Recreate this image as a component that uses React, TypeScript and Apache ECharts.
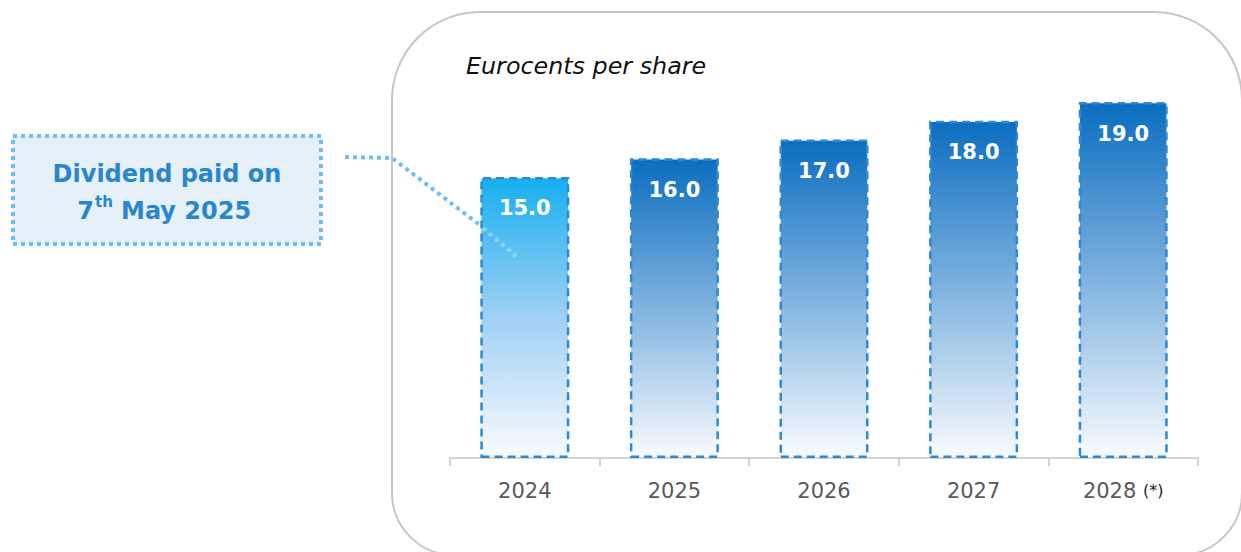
import React, { useEffect, useRef } from "react";
import * as echarts from "echarts";

const years = ["2024", "2025", "2026", "2027", "2028"];
const dividends = [15.0, 16.0, 17.0, 18.0, 19.0];
const topColors = ["#17aff0", "#0b6dc0", "#0b6dc0", "#0b6dc0", "#0b6dc0"];
const midColors = ["#a0d0f4", "#80b3df", "#80b3df", "#80b3df", "#80b3df"];
const estimatedYears = ["2028"];
const unitTitle = "Eurocents per share";
const noteLines = ["Dividend paid on", "7", "th", "May 2025"];

export default function App() {
  const ref = useRef<HTMLDivElement>(null);
  useEffect(() => {
    document.body.style.margin = "0";
    const chart = echarts.init(ref.current!, null, { renderer: "svg" });
    const font = "'DejaVu Sans', sans-serif";
    const data = dividends.map((v, i) => ({
      value: v,
      itemStyle: {
        color: new echarts.graphic.LinearGradient(0, 0, 0, 1, [
          { offset: 0, color: topColors[i] },
          { offset: 0.5, color: midColors[i] },
          { offset: 1, color: "#f8fbfe" },
        ]),
        borderColor: "#2a8ad6",
        borderWidth: 2.5,
        borderType: [8, 5],
      },
    }));
    chart.setOption({
      animation: false,
      grid: { left: 450, right: 43, top: 102, bottom: 94 },
      xAxis: {
        type: "category",
        data: years,
        axisLine: { lineStyle: { color: "#d3d3d3", width: 2 } },
        axisTick: { show: true, interval: 0, length: 8, lineStyle: { color: "#d3d3d3", width: 2 } },
        axisLabel: {
          interval: 0,
          margin: 22,
          color: "#595959",
          fontFamily: font,
          fontSize: 21,
          formatter: (v: string) => (estimatedYears.includes(v) ? `${v} {s|(*)}` : v),
          rich: { s: { fontSize: 16, color: "#1a1a1a", fontFamily: font } },
        },
      },
      yAxis: { type: "value", min: 0, max: 19, show: false, splitLine: { show: false } },
      series: [
        {
          type: "bar",
          data,
          barWidth: "59.5%",
          z: 3,
          label: {
            show: true,
            position: "insideTop",
            distance: 21,
            color: "#ffffff",
            fontFamily: font,
            fontWeight: "bold",
            fontSize: 21,
            formatter: (p: any) => Number(p.value).toFixed(1),
          },
        },
      ],
      graphic: [
        {
          type: "rect",
          z: 0,
          shape: { x: 392, y: 12, width: 850, height: 543, r: [88, 88, 62, 62] },
          style: { fill: "#ffffff", stroke: "#c6c6c6", lineWidth: 2 },
        },
        {
          type: "text",
          z: 5,
          style: {
            x: 466,
            y: 66,
            text: unitTitle,
            fontFamily: font,
            fontStyle: "italic",
            fontSize: 23.8,
            fill: "#111",
            verticalAlign: "middle",
          },
        },
        {
          type: "rect",
          z: 5,
          shape: { x: 13, y: 136, width: 308, height: 108 },
          style: { fill: "#e5f0f8", stroke: "#6dc0f1", lineWidth: 4, lineDash: [4, 4] },
        },
        {
          type: "text",
          z: 6,
          style: {
            x: 167,
            y: 174,
            text: noteLines[0],
            fontFamily: font,
            fontWeight: "bold",
            fontSize: 24,
            fill: "#2a86cb",
            align: "center",
            verticalAlign: "middle",
          },
        },
        {
          type: "text",
          z: 6,
          style: {
            x: 94,
            y: 211,
            text: noteLines[1],
            fontFamily: font,
            fontWeight: "bold",
            fontSize: 24,
            fill: "#2a86cb",
            align: "right",
            verticalAlign: "middle",
          },
        },
        {
          type: "text",
          z: 6,
          style: {
            x: 95,
            y: 202,
            text: noteLines[2],
            fontFamily: font,
            fontWeight: "bold",
            fontSize: 15,
            fill: "#2a86cb",
            align: "left",
            verticalAlign: "middle",
          },
        },
        {
          type: "text",
          z: 6,
          style: {
            x: 121,
            y: 211,
            text: noteLines[3],
            fontFamily: font,
            fontWeight: "bold",
            fontSize: 24,
            fill: "#2a86cb",
            align: "left",
            verticalAlign: "middle",
          },
        },
        {
          type: "polyline",
          z: 5,
          shape: { points: [[345, 157], [392, 158], [481, 226]] },
          style: { stroke: "#6dc0f1", lineWidth: 4, lineDash: [4, 4], fill: null },
        },
        {
          type: "polyline",
          z: 5,
          shape: { points: [[483, 228], [516, 256]] },
          style: { stroke: "#ffffff", opacity: 0.35, lineWidth: 4, lineDash: [4, 4], fill: null },
        },
      ],
    });
    return () => chart.dispose();
  }, []);
  return <div ref={ref} style={{ width: 1241, height: 552 }} />;
}
